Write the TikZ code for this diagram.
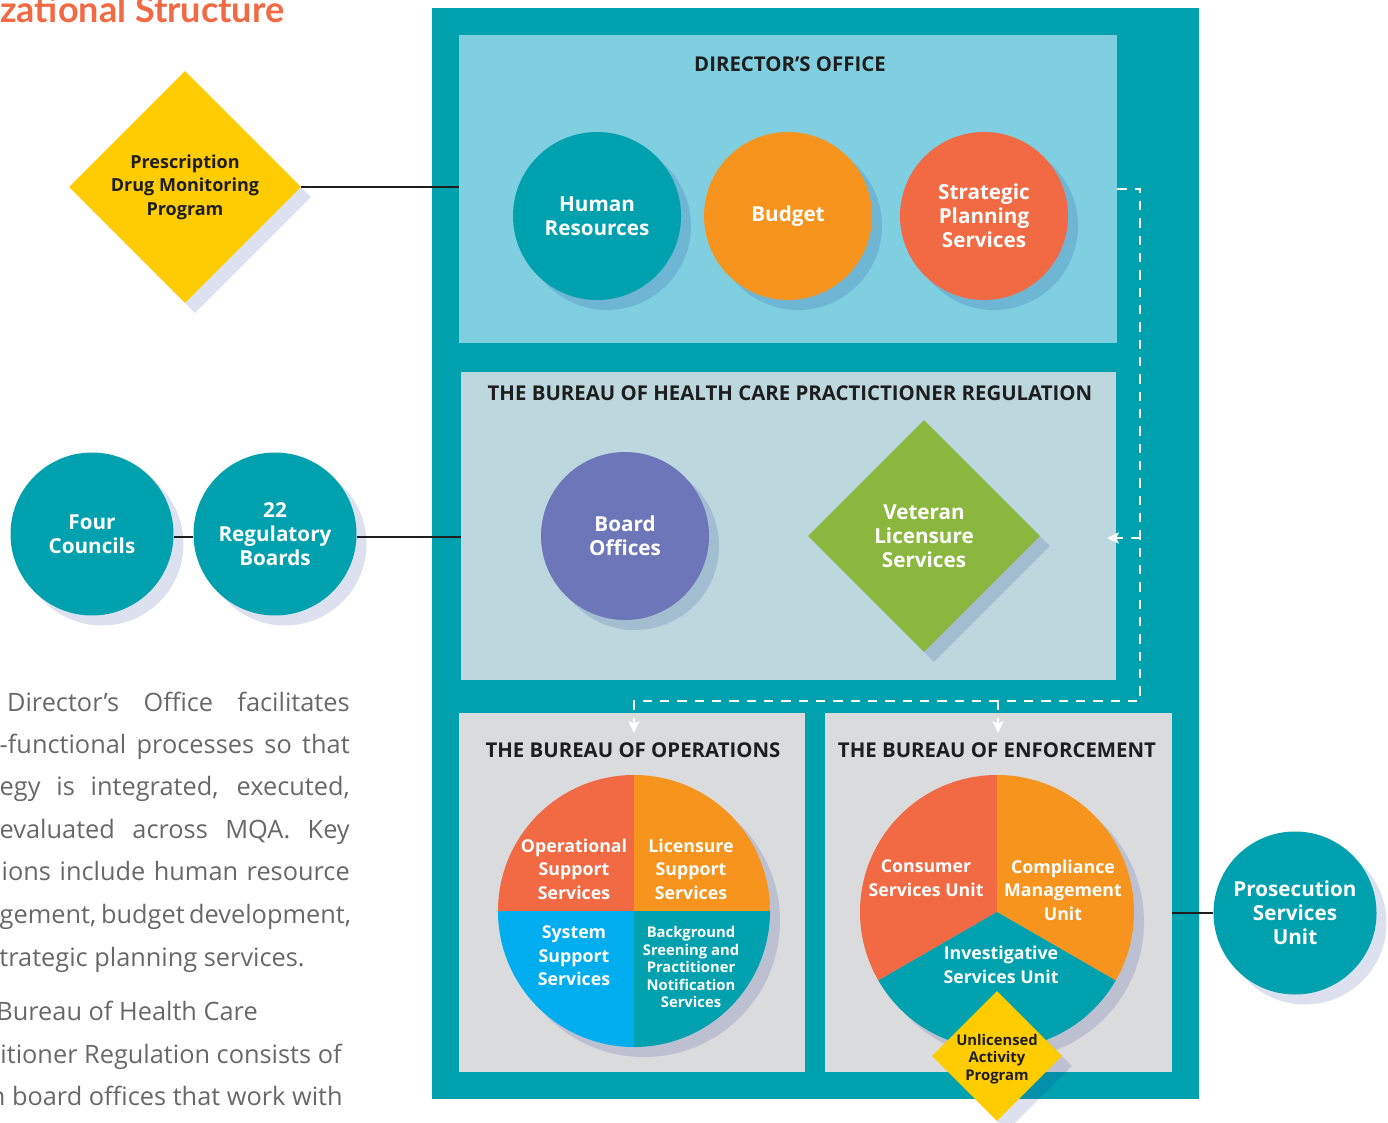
\documentclass[tikz,border=0pt]{standalone}
\usepackage{fontspec}
\setmainfont{Open Sans}
\newfontfamily\titlefont{Lato}
\usetikzlibrary{shapes.geometric,arrows.meta,shadows}
\definecolor{cteal}{HTML}{00A1AF}
\definecolor{clblue}{HTML}{7FCFE0}
\definecolor{chcpr}{HTML}{BCD7DE}
\definecolor{cgray}{HTML}{DADBDD}
\definecolor{cred}{HTML}{F26A44}
\definecolor{corange}{HTML}{F7941E}
\definecolor{cpurple}{HTML}{6D76B8}
\definecolor{cgreen}{HTML}{8CB73F}
\definecolor{cyellow}{HTML}{FFCC00}
\definecolor{cblue}{HTML}{00AEEF}
\definecolor{cshadow}{RGB}{12,34,134}
\definecolor{cbody}{HTML}{686868}
\definecolor{cdark}{HTML}{1E1E1E}
\newcommand\fLab{\fontsize{15.5pt}{18pt}\selectfont\bfseries}
\newcommand\fPie{\fontsize{13.3pt}{17.6pt}\selectfont\bfseries}
\newcommand\fSm{\fontsize{11.1pt}{13.1pt}\selectfont\bfseries}
\newcommand\fHd{\fontsize{15.3pt}{18pt}\selectfont\bfseries}
\newcommand\fBody{\fontsize{19pt}{22pt}\selectfont}
\tikzset{
  shad/.style={drop shadow={fill=cshadow, opacity=.14, shadow xshift=7.5pt, shadow yshift=-7.5pt}},
  box/.style={rectangle, inner sep=0pt, draw=none},
  circ/.style={circle, inner sep=0pt, minimum size=126pt, text=white, font=\fLab, align=center, shad},
  lcirc/.style={circle, inner sep=0pt, minimum size=122.25pt, fill=cteal, text=white, font=\fLab, align=center, shad},
  diam/.style={diamond, aspect=1, inner sep=0pt, align=center, shad},
  head/.style={font=\fHd, text=cdark, inner sep=0pt},
  pielab/.style={font=\fPie, text=white, align=center, inner sep=0pt},
  conn/.style={draw=cdark, line width=1pt},
  dashline/.style={draw=white, line width=1.1pt, dash pattern=on 7pt off 6pt},
  tip/.style={-{Stealth[length=9pt,width=8.5pt,inset=2pt]}},
  body/.style={font=\fBody, text=cbody, inner sep=0pt},
}
\begin{document}
\begin{tikzpicture}[x=0.75pt,y=-0.75pt]
\useasboundingbox (0,0) rectangle (1388,1123);
% title
\node[anchor=base west, inner sep=0pt, text=cred, font=\titlefont\fontsize{27pt}{30pt}\selectfont\bfseries] (title) at (0,23) {zational Structure};
% body text
\node[body, anchor=base east] (b1) at (350,711) {\makebox[257pt][s]{Director’s Office facilitates}};
\node[body, anchor=base east] (b2) at (350,753) {\makebox[262.5pt][s]{-functional processes so that}};
\node[body, anchor=base east] (b3) at (350,795) {\makebox[262.5pt][s]{egy is integrated, executed,}};
\node[body, anchor=base east] (b4) at (350,838) {\makebox[262.5pt][s]{evaluated across MQA. Key}};
\node[body, anchor=base east] (b5) at (350,880) {\makebox[261pt][s]{ions include human resource}};
\node[body, anchor=base east] (b6) at (350,923) {\makebox[262.5pt][s]{gement, budget development,}};
\node[body, anchor=base east] (b7) at (305,966) {trategic planning services.};
\node[body, anchor=base east] (b8) at (258,1020) {Bureau of Health Care};
\node[body, anchor=base east] (b9) at (342,1063) {itioner Regulation consists of};
\node[body, anchor=base east] (b10) at (343,1105) {n board offices that work with};
% outer and boxes
\node[box, fill=cteal, minimum width=575.25pt, minimum height=818.25pt] (outer) at (815.5,553.5) {};
\node[box, fill=clblue, minimum width=493.5pt, minimum height=231pt] (dir) at (788,189) {};
\node[box, fill=chcpr, minimum width=491.25pt, minimum height=231pt] (hcpr) at (788.5,526) {};
\node[box, fill=cgray, minimum width=259.5pt, minimum height=269.25pt] (ops) at (632,892.5) {};
\node[box, fill=cgray, minimum width=260.25pt, minimum height=269.25pt] (enf) at (998.5,892.5) {};
% headings
\node[head] (hdir) at (790,64) {DIRECTOR’S OFFICE};
\node[head] (hhcpr) at (790,393) {THE BUREAU OF HEALTH CARE PRACTICTIONER REGULATION};
\node[head] (hops) at (633,750) {THE BUREAU OF OPERATIONS};
\node[head] (henf) at (997,750) {THE BUREAU OF ENFORCEMENT};
% dashed connectors
\coordinate (jt) at (1140,189);
\coordinate (jb) at (1140,701);
\coordinate (ta) at (634,733);
\coordinate (tb) at (998,733);
\coordinate (tc) at (1107,538);
\draw[dashline, tip] (dir.east) -- (jt) -- (jb) -- (jb -| ta) -- (ta);
\draw[dashline, tip] (tb |- jb) -- (tb);
\draw[dashline, tip] (jt |- tc) -- (tc);
% director's office circles
\node[circ, fill=cteal] (hr) at (597,216) {Human\\Resources};
\node[circ, fill=corange] (bud) at (788,216) {Budget};
\node[circ, fill=cred] (sps) at (984,216) {Strategic\\Planning\\Services};
% HCPR
\node[circ, fill=cpurple] (bo) at (625,536) {Board\\Offices};
\node[diam, fill=cgreen, minimum width=174pt, minimum height=174pt, text=white, font=\fLab] (vls) at (924,536) {Veteran\\Licensure\\Services};
% left side
\node[diam, fill=cyellow, minimum width=174pt, minimum height=174pt, text=cdark, font=\fontsize{13.5pt}{17.6pt}\selectfont\bfseries] (pdmp) at (185,187) {Prescription\\Drug Monitoring\\Program};
\draw[conn] (pdmp.east) -- (pdmp.east -| dir.west);
\node[lcirc] (fc) at (92,534) {Four\\Councils};
\node[lcirc] (rb) at (275,534) {22\\Regulatory\\Boards};
\draw[conn] ([yshift=-2.2pt]fc.east) -- ([yshift=-2.2pt]rb.west);
\draw[conn] ([yshift=-2.2pt]rb.east) -- ([yshift=-2.2pt]rb.east -| hcpr.west);
% prosecution
\node[lcirc] (psu) at (1295,913) {Prosecution\\Services\\Unit};
\draw[conn] (psu.west) -- (psu.west -| enf.east);
% operations pie
\coordinate (opc) at (634,911);
\fill[cshadow, opacity=.14] ([shift={(10,10)}]opc) circle[radius=136];
\fill[cred] (opc) -- +(-90:136) arc[start angle=-90, end angle=-180, radius=136] -- cycle;
\fill[corange] (opc) -- +(-90:136) arc[start angle=-90, end angle=0, radius=136] -- cycle;
\fill[cblue] (opc) -- +(180:136) arc[start angle=180, end angle=90, radius=136] -- cycle;
\fill[cteal] (opc) -- +(0:136) arc[start angle=0, end angle=90, radius=136] -- cycle;
\node[pielab] (oss) at (574,869) {Operational\\Support\\Services};
\node[pielab] (lss) at (691,869) {Licensure\\Support\\Services};
\node[pielab] (sss) at (574,956) {System\\Support\\Services};
\node[pielab, font=\fSm] (bsp) at (691,967) {Background\\Sreening and\\Practitioner\\Notification\\Services};
% enforcement pie
\coordinate (enc) at (997,912);
\fill[cshadow, opacity=.14] ([shift={(10,10)}]enc) circle[radius=137];
\fill[cred] (enc) -- +(-90:137) arc[start angle=-90, end angle=-210, radius=137] -- cycle;
\fill[corange] (enc) -- +(-90:137) arc[start angle=-90, end angle=30, radius=137] -- cycle;
\fill[cteal] (enc) -- +(150:137) arc[start angle=150, end angle=30, radius=137] -- cycle;
\node[pielab] (csu) at (926,878) {Consumer\\Services Unit};
\node[pielab] (cmu) at (1063,890) {Compliance\\Management\\Unit};
\node[pielab] (isu) at (1001,965) {Investigative\\Services Unit};
% unlicensed
\node[diam, fill=cyellow, minimum width=97.5pt, minimum height=97.5pt] (uap) at (997,1056) {};
\node[font=\fSm, text=cdark, align=center, inner sep=0pt] (uapt) at (997,1059) {Unlicensed\\Activity\\Program};
\end{tikzpicture}
\end{document}
